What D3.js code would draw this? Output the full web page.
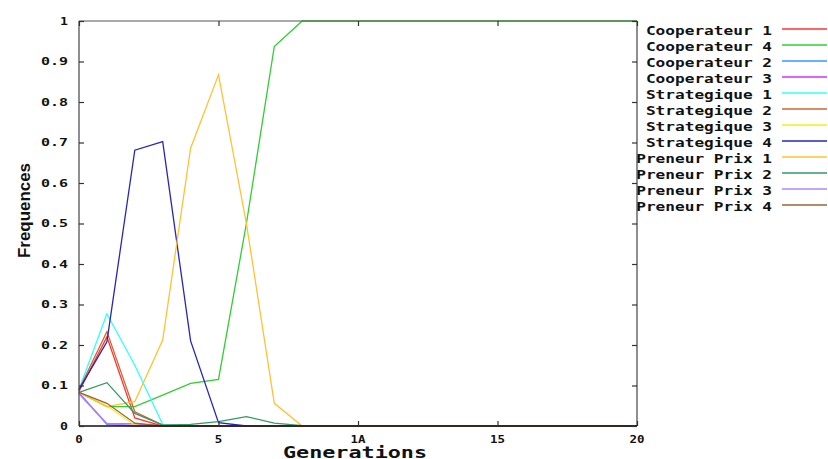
<!DOCTYPE html>
<html>
<head>
<meta charset="utf-8">
<script src="https://cdn.jsdelivr.net/npm/d3@7"></script>
<style>
html,body{margin:0;padding:0;background:#fff;}
svg{display:block;}
</style>
</head>
<body>
<svg id="chart" width="828" height="459"></svg>
<script>
const generations = [0,1,2,3,4,5,6,7,8,9,10,11,12,13,14,15,16,17,18,19,20];
const seriesNames = ["Cooperateur 1","Cooperateur 4","Cooperateur 2","Cooperateur 3",
  "Strategique 1","Strategique 2","Strategique 3","Strategique 4",
  "Preneur Prix 1","Preneur Prix 2","Preneur Prix 3","Preneur Prix 4"];
const seriesColors = ["#ff3333","#33cc33","#3399ff","#cc33ff","#33ffff","#cc6633",
  "#eeee22","#2727b4","#ffc233","#339966","#aa88ff","#996633"];

const cooperateur1 = [0.085,0.22,0.02,0,0,0,0,0,0,0,0,0,0,0,0,0,0,0,0,0,0];
const cooperateur4 = [0.083,0.048,0.048,0.076,0.105,0.115,0.5,0.937,1,1,1,1,1,1,1,1,1,1,1,1,1];
const cooperateur2 = [0.082,0.004,0,0,0,0,0,0,0,0,0,0,0,0,0,0,0,0,0,0,0];
const cooperateur3 = [0.08,0.006,0.005,0,0,0,0,0,0,0,0,0,0,0,0,0,0,0,0,0,0];
const strategique1 = [0.09,0.277,0.15,0.004,0,0,0,0,0,0,0,0,0,0,0,0,0,0,0,0,0];
const strategique2 = [0.09,0.233,0.035,0.002,0,0,0,0,0,0,0,0,0,0,0,0,0,0,0,0,0];
const strategique3 = [0.083,0.05,0.002,0,0,0,0,0,0,0,0,0,0,0,0,0,0,0,0,0,0];
const strategique4 = [0.09,0.208,0.681,0.702,0.21,0.008,0,0,0,0,0,0,0,0,0,0,0,0,0,0,0];
const preneurPrix1 = [0.083,0.048,0.06,0.212,0.686,0.867,0.5,0.056,0,0,0,0,0,0,0,0,0,0,0,0,0];
const preneurPrix2 = [0.083,0.107,0.031,0.002,0.004,0.011,0.023,0.007,0.001,0,0,0,0,0,0,0,0,0,0,0,0];
const preneurPrix3 = [0.08,0.005,0,0,0,0,0,0,0,0,0,0,0,0,0,0,0,0,0,0,0];
const preneurPrix4 = [0.083,0.056,0.007,0,0,0,0,0,0,0,0,0,0,0,0,0,0,0,0,0,0];

const seriesValues = [cooperateur1,cooperateur4,cooperateur2,cooperateur3,
  strategique1,strategique2,strategique3,strategique4,
  preneurPrix1,preneurPrix2,preneurPrix3,preneurPrix4];

const xTickValues = [0,5,10,15,20];
const xTickLabels = ["0","5","1A","15","20"];
const yTickValues = [0,0.1,0.2,0.3,0.4,0.5,0.6,0.7,0.8,0.9,1];
const yTickLabels = ["0","0.1","0.2","0.3","0.4","0.5","0.6","0.7","0.8","0.9","1"];

const svg = d3.select("#chart");
const L = 79, R = 637, T = 21, B = 426;
const x = d3.scaleLinear().domain([0,20]).range([L,R]);
const y = d3.scaleLinear().domain([0,1]).range([B,T]);
const mono = "'DejaVu Sans Mono', 'Liberation Mono', monospace";

// series lines
const line = d3.line().x((d,i)=>x(generations[i])).y(d=>y(d));
seriesValues.forEach((vals,k)=>{
  svg.append("path").datum(vals)
    .attr("d", line)
    .attr("fill","none")
    .attr("stroke", seriesColors[k])
    .attr("stroke-width",1.3)
    .attr("stroke-linejoin","miter");
});

// frame
const frame = svg.append("g").attr("fill","none");
frame.append("line").attr("x1",L).attr("x2",L).attr("y1",T).attr("y2",B).attr("stroke","#444").attr("stroke-width",1.2);
frame.append("line").attr("x1",R).attr("x2",R).attr("y1",T).attr("y2",B).attr("stroke","#444").attr("stroke-width",1.2);
frame.append("line").attr("x1",L).attr("x2",R).attr("y1",T).attr("y2",T).attr("stroke","#555").attr("stroke-width",1.2);
frame.append("line").attr("x1",L).attr("x2",R).attr("y1",B).attr("y2",B).attr("stroke","#111").attr("stroke-width",1.6);

// axes via d3 axis generators (ticks inward)
const tickColor = "#333";
const yAxisL = d3.axisRight(y).tickValues(yTickValues).tickSize(5).tickFormat("");
const yAxisR = d3.axisLeft(y).tickValues(yTickValues).tickSize(5).tickFormat("");
const xAxisB = d3.axisTop(x).tickValues(xTickValues).tickSize(5).tickFormat("");
const xAxisT = d3.axisBottom(x).tickValues(xTickValues).tickSize(5).tickFormat("");
[[yAxisL,`translate(${L},0)`],[yAxisR,`translate(${R},0)`],[xAxisB,`translate(0,${B})`],[xAxisT,`translate(0,${T})`]].forEach(([ax,tr])=>{
  const g = svg.append("g").attr("transform",tr).call(ax);
  g.select(".domain").remove();
  g.selectAll("line").attr("stroke",tickColor).attr("stroke-width",1.2);
});

// tick labels
svg.append("g").selectAll("text").data(yTickValues).join("text")
  .attr("x",68).attr("y",d=>y(d)+3.5)
  .attr("text-anchor","end")
  .attr("font-family",mono).attr("font-weight","bold").attr("font-size",10)
  .attr("textLength",(d,i)=>yTickLabels[i].length===1?8:27)
  .attr("lengthAdjust","spacingAndGlyphs")
  .attr("fill","#111")
  .text((d,i)=>yTickLabels[i]);

svg.append("g").selectAll("text").data(xTickValues).join("text")
  .attr("x",d=>x(d)).attr("y",443)
  .attr("text-anchor","middle")
  .attr("font-family",mono).attr("font-weight","bold").attr("font-size",10)
  .attr("textLength",(d,i)=>xTickLabels[i].length*7.5)
  .attr("lengthAdjust","spacingAndGlyphs")
  .attr("fill","#111")
  .text((d,i)=>xTickLabels[i]);

// axis titles
svg.append("text")
  .attr("transform","translate(30,210.5) rotate(-90)")
  .attr("text-anchor","middle")
  .attr("font-family","'Liberation Sans', Arial, sans-serif")
  .attr("font-weight","bold").attr("font-size",17)
  .attr("textLength",95).attr("lengthAdjust","spacingAndGlyphs")
  .attr("fill","#111")
  .text("Frequences");

svg.append("text")
  .attr("x",355).attr("y",458)
  .attr("text-anchor","middle")
  .attr("font-family",mono).attr("font-weight","bold").attr("font-size",16)
  .attr("textLength",144).attr("lengthAdjust","spacingAndGlyphs")
  .attr("fill","#111")
  .text("Generations");

// legend
const legend = svg.append("g");
seriesNames.forEach((name,i)=>{
  const cy = 29 + 16*i;
  legend.append("text")
    .attr("x",772).attr("y",cy+5.5)
    .attr("text-anchor","end")
    .attr("font-family",mono).attr("font-weight","bold").attr("font-size",13)
    .attr("textLength",name.length*9.7).attr("lengthAdjust","spacingAndGlyphs")
    .attr("fill","#111")
    .text(name);
  legend.append("line")
    .attr("x1",782).attr("x2",827).attr("y1",cy).attr("y2",cy)
    .attr("stroke",seriesColors[i]).attr("stroke-width",1.3);
});
</script>
</body>
</html>
